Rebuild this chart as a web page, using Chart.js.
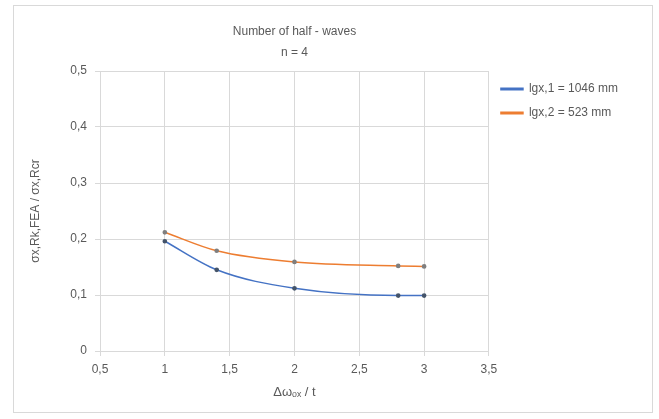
<!DOCTYPE html>
<html>
<head>
<meta charset="utf-8">
<script src="https://cdn.jsdelivr.net/npm/chart.js@4"></script>
<style>
  body { margin: 0; background: #fff; }
  #frame {
    position: absolute;
    left: 13px;
    top: 5px;
    width: 638px;
    height: 406px;
    border: 1px solid #d9d9d9;
  }
</style>
</head>
<body>
<div id="frame">
  <canvas id="halfWaves" width="638" height="406"></canvas>
</div>
<script>

const xValues = [1, 1.4, 2, 2.8, 3];

const lgx1Values = [0.196, 0.145, 0.112, 0.099, 0.099];

const lgx2Values = [0.212, 0.179, 0.159, 0.152, 0.151];

const seriesNames = ["lgx,1 = 1046 mm", "lgx,2 = 523 mm"];

const xTicks = [0.5, 1, 1.5, 2, 2.5, 3, 3.5];

const yTicks = [0, 0.1, 0.2, 0.3, 0.4, 0.5];

const textColor = '#595959';
const gridColor = '#d9d9d9';

function toPoints(values){
  return xValues.map((x, i) => ({ x: x, y: values[i] }));
}

function commaLabel(value){
  return String(value).replace('.', ',');
}

Chart.defaults.font.family = "'Liberation Sans', 'DejaVu Sans', sans-serif";
Chart.defaults.font.size = 12;
Chart.defaults.color = textColor;

const ctx = document.getElementById("halfWaves");

new Chart(ctx, {

  type: 'line',

  data: {

    datasets: [
      {
        label: seriesNames[0],
        data: toPoints(lgx1Values),
        borderColor: '#4472c4',
        backgroundColor: '#4472c4',
        borderWidth: 1.5,
        pointRadius: 1.6,
        pointBackgroundColor: '#44546a',
        pointBorderColor: '#44546a',
        tension: 0.4,
        cubicInterpolationMode: 'monotone'
      },
      {
        label: seriesNames[1],
        data: toPoints(lgx2Values),
        borderColor: '#ed7d31',
        backgroundColor: '#ed7d31',
        borderWidth: 1.5,
        pointRadius: 1.6,
        pointBackgroundColor: '#7f7f7f',
        pointBorderColor: '#7f7f7f',
        tension: 0.4,
        cubicInterpolationMode: 'monotone'
      }
    ]

  },

  options: {

    responsive: false,
    animation: false,

    layout: {
      padding: { left: 10, right: 24, top: 0, bottom: 8 }
    },

    plugins: {

      title: {
        display: true,
        text: ["Number of half - waves", "n = 4"],
        fullSize: false,
        color: textColor,
        font: { size: 12, weight: 'normal', lineHeight: 1.75 },
        padding: { top: 15, bottom: 8 }
      },

      legend: {
        position: 'right',
        align: 'start',
        fullSize: false,
        labels: {
          boxWidth: 22,
          boxHeight: 1.5,
          padding: 12,
          color: textColor,
          font: { size: 12 }
        }
      },

      tooltip: { enabled: false }

    },

    scales: {

      x: {
        type: 'linear',
        min: xTicks[0],
        max: xTicks[xTicks.length - 1],
        afterBuildTicks: scale => {
          scale.ticks = xTicks.map(v => ({ value: v }));
        },
        ticks: {
          callback: v => commaLabel(v),
          padding: 6
        },
        grid: {
          color: gridColor,
          tickLength: 5
        },
        border: { color: gridColor },
        title: {
          display: true,
          text: "Δωₒₓ / t",
          color: textColor,
          font: { size: 13 },
          padding: { top: 2 }
        }
      },

      y: {
        min: yTicks[0],
        max: yTicks[yTicks.length - 1],
        afterBuildTicks: scale => {
          scale.ticks = yTicks.map(v => ({ value: v }));
        },
        afterFit: scale => {
          scale.width = 76;
        },
        ticks: {
          callback: v => commaLabel(v),
          padding: 8
        },
        grid: {
          color: gridColor,
          tickLength: 5
        },
        border: { display: false },
        title: {
          display: true,
          text: "σx,Rk,FEA / σx,Rcr",
          color: textColor,
          font: { size: 12 }
        }
      }

    }

  }

});

</script>
</body>
</html>
